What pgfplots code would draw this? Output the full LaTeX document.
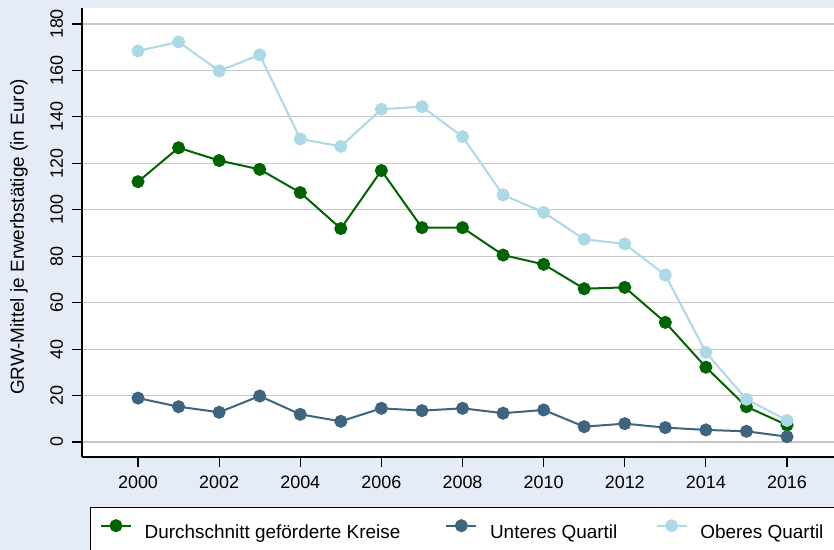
\documentclass[border=0pt]{standalone}
\usepackage{pgfplots}
\pgfplotsset{compat=1.18}
\usepackage{fontspec}
\setmainfont{Liberation Sans}
\definecolor{bgc}{RGB}{230,236,247}
\definecolor{gridc}{RGB}{200,200,200}
\definecolor{cgreen}{RGB}{0,100,0}
\definecolor{cdblue}{RGB}{62,100,128}
\definecolor{clblue}{RGB}{173,216,230}
\begin{document}
\begin{tikzpicture}[x=1bp,y=1bp]
\fill[bgc] (0,0) rectangle (834,550);
\draw[black, line width=1.2bp, fill=white] (90.7,42.3) rectangle (900,-30);
\begin{axis}[
  at={(82bp,93bp)}, anchor=south west,
  scale only axis, width=752bp, height=449bp,
  xmin=1998.619, xmax=2017.159,
  ymin=-6.46, ymax=186.9,
  axis background/.style={fill=white},
  axis lines*=left,
  axis line style={black, line width=1.2bp},
  xtick={2000,2002,...,2016},
  ytick={0,20,...,180},
  xticklabel={\pgfmathprintnumber[1000 sep={}]{\tick}},
  /pgf/number format/1000 sep={},
  tick align=outside,
  major tick length=10bp,
  tick style={black, line width=1.2bp},
  ymajorgrids,
  major grid style={gridc, line width=1.2bp},
  /pgf/number format/assume math mode=true,
  tick label style={font=\fontsize{18}{21}\selectfont},
  xticklabel style={inner sep=0pt, anchor=north, yshift=-8.7bp},
  yticklabel style={xshift=-8.7bp, rotate=90, inner sep=0pt, anchor=south},
  ylabel={GRW-Mittel je Erwerbstätige (in Euro)},
  every axis y label/.style={at={(axis description cs:-0.0838,0.49)}, rotate=90, anchor=center, font=\fontsize{19}{22}\selectfont},
  legend style={at={(axis description cs:0.02394,-0.1626)}, anchor=west, draw=none, fill=none,
    inner sep=0pt, outer sep=0pt,
    legend columns=3, font=\fontsize{19}{22}\selectfont,
    nodes={inner sep=0pt},
    /tikz/every odd column/.append style={column sep=12.7bp},
    /tikz/column 2/.append style={column sep=45bp},
    /tikz/column 4/.append style={column sep=38.3bp}},
  legend image code/.code={\draw[mark repeat=2,mark phase=2] plot coordinates {(0bp,6.5bp) (15bp,6.5bp) (30bp,6.5bp)};},
  every axis plot/.append style={line width=2bp, mark=*, mark size=5.5bp},
  clip=false,
]
\addplot[cgreen, mark options={fill=cgreen, draw=none}] coordinates {
(2000,112.1) (2001,126.7) (2002,121.2) (2003,117.4) (2004,107.4) (2005,91.9)
(2006,116.9) (2007,92.3) (2008,92.3) (2009,80.5) (2010,76.5) (2011,66.0)
(2012,66.6) (2013,51.5) (2014,32.2) (2015,15.2) (2016,7.3)};
\addlegendentry{Durchschnitt geförderte Kreise}
\addplot[cdblue, mark options={fill=cdblue, draw=none}] coordinates {
(2000,18.9) (2001,15.2) (2002,12.8) (2003,19.8) (2004,11.9) (2005,8.9)
(2006,14.5) (2007,13.5) (2008,14.5) (2009,12.4) (2010,13.8) (2011,6.6)
(2012,7.9) (2013,6.2) (2014,5.2) (2015,4.6) (2016,2.3)};
\addlegendentry{Unteres Quartil}
\addplot[clblue, mark options={fill=clblue, draw=none}] coordinates {
(2000,168.4) (2001,172.3) (2002,159.8) (2003,166.7) (2004,130.5) (2005,127.3)
(2006,143.3) (2007,144.4) (2008,131.5) (2009,106.4) (2010,98.9) (2011,87.3)
(2012,85.3) (2013,71.9) (2014,38.6) (2015,18.4) (2016,9.3)};
\addlegendentry{Oberes Quartil}
\end{axis}
\pgfresetboundingbox
\path[use as bounding box] (0,0) rectangle (834,550);
\end{tikzpicture}
\end{document}
